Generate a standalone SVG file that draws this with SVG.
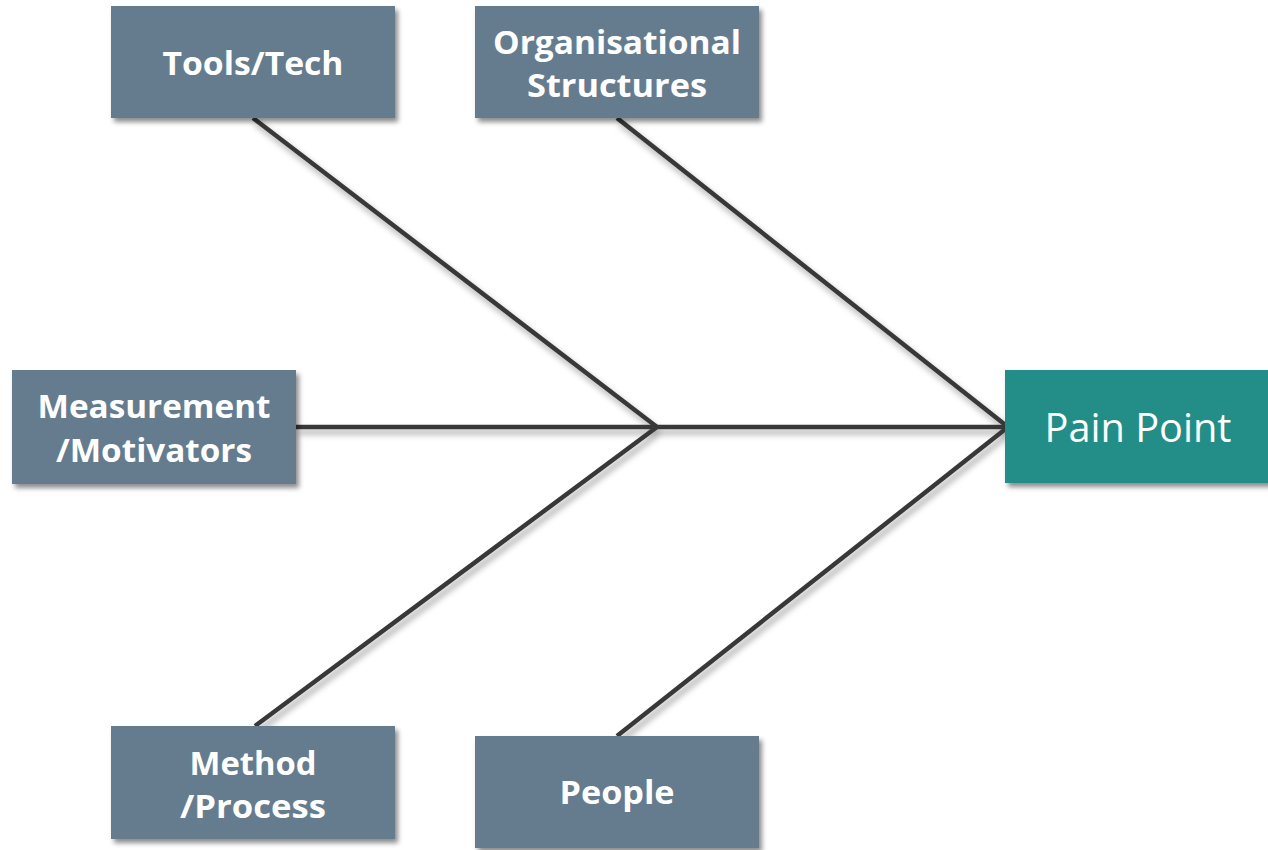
<svg xmlns="http://www.w3.org/2000/svg" width="1268" height="850" viewBox="0 0 1268 850">
  <defs>
    <filter id="shadow" x="-10%" y="-10%" width="130%" height="140%">
      <feDropShadow dx="3" dy="4" stdDeviation="2.5" flood-color="#000" flood-opacity="0.45"/>
    </filter>
    <filter id="lineShadow" x="-10%" y="-10%" width="130%" height="130%">
      <feDropShadow dx="3" dy="5" stdDeviation="3" flood-color="#000" flood-opacity="0.35"/>
    </filter>
  </defs>
  <style>
    .cause { fill: #657b8f; filter: url(#shadow); }
    .effect { fill: #218e87; filter: url(#shadow); }
    .label { font-family: "Open Sans", "DejaVu Sans", sans-serif; font-weight: 700; font-size: 33px; fill: #ffffff; text-anchor: middle; }
    .effect-label { font-family: "Open Sans", "DejaVu Sans", sans-serif; font-weight: 400; font-size: 40px; fill: #ffffff; text-anchor: middle; }
    .bone { stroke: #383838; stroke-width: 4.5; fill: none; stroke-linecap: butt; }
  </style>
  <rect width="1268" height="850" fill="#ffffff"/>

  <!-- fishbone connectors -->
  <g id="connectors" filter="url(#lineShadow)">
    <line class="bone" x1="296" y1="427" x2="1008" y2="427"/>
    <line class="bone" x1="253" y1="118" x2="657" y2="427"/>
    <line class="bone" x1="255" y1="726" x2="657" y2="427"/>
    <line class="bone" x1="617" y1="118" x2="1008" y2="427"/>
    <line class="bone" x1="617" y1="736" x2="1008" y2="427"/>
  </g>

  <g id="tools-tech">
    <rect class="cause" x="111" y="6" width="284" height="112"/>
    <text class="label" x="253" y="75" textLength="181" lengthAdjust="spacingAndGlyphs">Tools/Tech</text>
  </g>

  <g id="organisational-structures">
    <rect class="cause" x="475" y="6" width="284" height="112"/>
    <text class="label" x="617" y="54" textLength="248" lengthAdjust="spacingAndGlyphs">Organisational</text>
    <text class="label" x="617" y="97" textLength="180" lengthAdjust="spacingAndGlyphs">Structures</text>
  </g>

  <g id="measurement-motivators">
    <rect class="cause" x="12" y="370" width="284" height="114"/>
    <text class="label" x="154" y="418" textLength="233" lengthAdjust="spacingAndGlyphs">Measurement</text>
    <text class="label" x="154" y="462" textLength="196" lengthAdjust="spacingAndGlyphs">/Motivators</text>
  </g>

  <g id="method-process">
    <rect class="cause" x="111" y="726" width="284" height="113"/>
    <text class="label" x="253" y="775" textLength="127" lengthAdjust="spacingAndGlyphs">Method</text>
    <text class="label" x="253" y="818" textLength="146" lengthAdjust="spacingAndGlyphs">/Process</text>
  </g>

  <g id="people">
    <rect class="cause" x="475" y="736" width="284" height="112"/>
    <text class="label" x="617" y="804" textLength="115" lengthAdjust="spacingAndGlyphs">People</text>
  </g>

  <g id="pain-point">
    <rect class="effect" x="1005" y="370" width="270" height="113"/>
    <text class="effect-label" x="1138" y="442" textLength="187" lengthAdjust="spacingAndGlyphs">Pain Point</text>
  </g>
</svg>
